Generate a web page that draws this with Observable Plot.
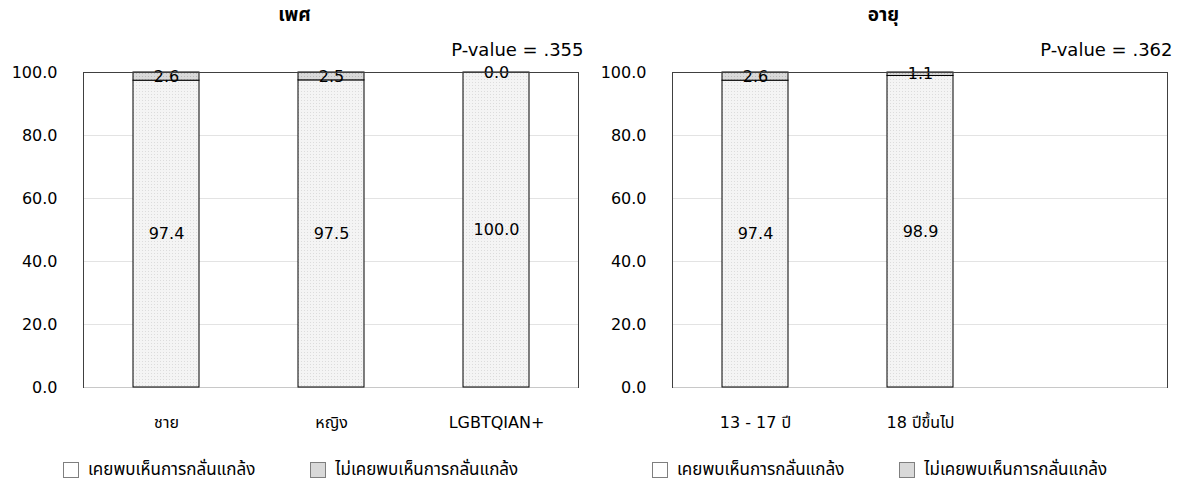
<!DOCTYPE html>
<html><head><meta charset="utf-8">
<script src="https://cdn.jsdelivr.net/npm/d3@7"></script>
<script src="https://cdn.jsdelivr.net/npm/@observablehq/plot@0.6"></script>
<style>
body{margin:0;background:#fff;font-family:"DejaVu Sans","Noto Sans Thai","Noto Sans",sans-serif;}
#wrap{display:flex;width:1179px;height:480px;}
.panel{position:relative;width:589px;height:480px;}
.title{position:absolute;top:1px;left:0;width:589px;text-align:center;font-weight:bold;font-size:19px;color:#000;}
.legend{position:absolute;top:457px;left:63px;font-size:17px;color:#000;display:flex;align-items:center;white-space:nowrap;}
.sw{display:inline-block;width:14px;height:14px;border:1px solid #7f7f7f;margin-right:9px;}
.svgbox{position:absolute;top:30px;left:0;}
</style></head>
<body><div id="wrap"></div>
<script>
const titles = ["เพศ", "อายุ"];
const pValueLabels = ["P-value = .355", "P-value = .362"];
const seriesNames = ["เคยพบเห็นการกลั่นแกล้ง", "ไม่เคยพบเห็นการกลั่นแกล้ง"];
const genderCategories = ["ชาย", "หญิง", "LGBTQIAN+"];
const genderSeen = [97.4, 97.5, 100.0];
const genderNotSeen = [2.6, 2.5, 0.0];
const ageCategories = ["13 - 17 ปี", "18 ปีขึ้นไป", ""];
const ageSeen = [97.4, 98.9];
const ageNotSeen = [2.6, 1.1];
const yTicks = [0, 20, 40, 60, 80, 100];

const fills = ["url(#pLight)", "url(#pDark)"];
const swatchBg = ["#ffffff", "#d9d9d9"];

function buildRows(cats, seen, notSeen) {
  const rows = [];
  seen.forEach((v, i) => rows.push({cat: cats[i], series: seriesNames[0], value: v}));
  notSeen.forEach((v, i) => rows.push({cat: cats[i], series: seriesNames[1], value: v}));
  return rows;
}

function panel(idx, cats, seen, notSeen) {
  const rows = buildRows(cats, seen, notSeen);
  const el = document.createElement("div");
  el.className = "panel";
  const t = document.createElement("div");
  t.className = "title"; t.textContent = titles[idx];
  el.appendChild(t);
  const chart = Plot.plot({
    width: 589, height: 415,
    marginLeft: 83, marginRight: 11, marginTop: 42, marginBottom: 58,
    style: {fontFamily: '"DejaVu Sans","Noto Sans Thai","Noto Sans",sans-serif', fontSize: "16px", color: "#000", background: "#fff"},
    x: {domain: cats, paddingInner: 0.6, paddingOuter: 0.3, label: null, tickSize: 0, tickPadding: 29},
    y: {domain: [0, 100], ticks: yTicks, tickFormat: d3.format(".1f"), label: null, tickSize: 0, tickPadding: 26},
    color: {domain: seriesNames, range: fills},
    marks: [
      Plot.gridY(yTicks.filter(d => d > 0 && d < 100), {stroke: "#e3e3e3", strokeOpacity: 1}),
      Plot.ruleY([0], {stroke: "#c8c8c8"}),
      Plot.barY(rows, {x: "cat", y: "value", fill: "series", stroke: "#000", strokeWidth: 1, order: seriesNames}),
      Plot.text(rows, Plot.stackY({x: "cat", y: "value", z: "series", order: seriesNames, text: d => d3.format(".1f")(d.value), fill: "#000", fontSize: 16})),
      Plot.frame({anchor: "top", stroke: "#404040"}),
      Plot.frame({anchor: "left", stroke: "#404040"}),
      Plot.frame({anchor: "right", stroke: "#404040"}),
      Plot.text([pValueLabels[idx]], {frameAnchor: "top-right", dy: -29, dx: 5, textAnchor: "end", fontSize: 18, fill: "#000"})
    ]
  });
  const svg = chart.tagName.toLowerCase() === "svg" ? chart : chart.querySelector("svg");
  const defs = d3.select(svg).insert("defs", ":first-child");
  const p1 = defs.append("pattern").attr("id", "pLight").attr("patternUnits", "userSpaceOnUse").attr("width", 3).attr("height", 3);
  p1.append("rect").attr("width", 3).attr("height", 3).attr("fill", "#f4f4f4");
  p1.append("rect").attr("x", 1).attr("y", 1).attr("width", 1).attr("height", 1).attr("fill", "#dcdcdc");
  const p2 = defs.append("pattern").attr("id", "pDark").attr("patternUnits", "userSpaceOnUse").attr("width", 3).attr("height", 3);
  p2.append("rect").attr("width", 3).attr("height", 3).attr("fill", "#d9d9d9");
  p2.append("rect").attr("x", 1).attr("y", 1).attr("width", 1).attr("height", 1).attr("fill", "#b8b8b8");
  const box = document.createElement("div");
  box.className = "svgbox"; box.appendChild(chart);
  el.appendChild(box);
  const lg = document.createElement("div");
  lg.className = "legend";
  seriesNames.forEach((s, i) => {
    const item = document.createElement("span");
    item.style.display = "inline-flex"; item.style.alignItems = "center";
    item.style.marginRight = i === 0 ? "55px" : "0";
    const sw = document.createElement("span");
    sw.className = "sw"; sw.style.background = swatchBg[i];
    item.appendChild(sw);
    item.appendChild(document.createTextNode(s));
    lg.appendChild(item);
  });
  el.appendChild(lg);
  return el;
}

const wrap = document.getElementById("wrap");
wrap.appendChild(panel(0, genderCategories, genderSeen, genderNotSeen));
wrap.appendChild(panel(1, ageCategories, ageSeen, ageNotSeen));
</script></body></html>
